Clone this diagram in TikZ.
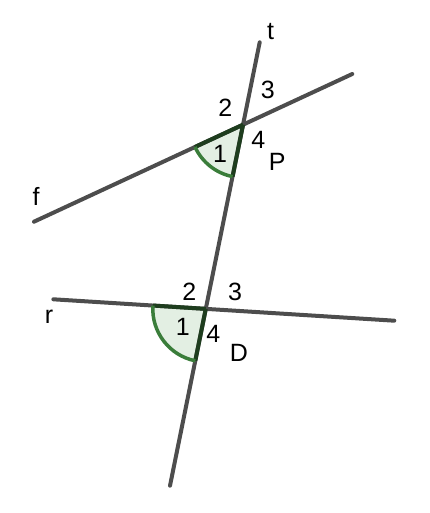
\documentclass[tikz,border=0pt]{standalone}
\usepackage{fontspec}
\setmainfont{Liberation Sans}
\usepackage{tikz}
\definecolor{linegray}{HTML}{4D4D4D}
\definecolor{arcgreen}{HTML}{3A7D3A}
\definecolor{sidegreen}{HTML}{1E3D1E}
\definecolor{sectorfill}{HTML}{E3EFE3}
\tikzstyle{gline} = [draw=linegray, line width=4pt, line cap=round]
\tikzstyle{sector} = [fill=sectorfill]
\tikzstyle{anglearc} = [draw=arcgreen, line width=3.5pt]
\tikzstyle{anglesides} = [draw=sidegreen, line width=4pt]
\tikzstyle{lbl} = [inner sep=0pt, font=\fontsize{25}{30}\selectfont]

\begin{document}
\begin{tikzpicture}[x=1pt, y=1pt]
                \useasboundingbox (0,0) rectangle (430,513);
                % end points of t, f and r
                \coordinate (tTop) at (259.7,470.7);
                \coordinate (tBot) at (170,27.3);
                \coordinate (fL) at (34,291.3);
                \coordinate (fR) at (352.3,439);
                \coordinate (rL) at (53.3,213.7);
                \coordinate (rR) at (394.3,192.3);
                \coordinate (P) at (intersection of tTop--tBot and fL--fR);
                \coordinate (D) at (intersection of tTop--tBot and rL--rR);
                % angles 1
                \fill[sector] (P) -- ++(204.9:53) arc[start angle=204.9, end angle=258.6, radius=53] -- cycle;
                \fill[sector] (D) -- ++(176.4:53) arc[start angle=176.4, end angle=258.6, radius=53] -- cycle;
                \draw[gline] (tTop) -- (tBot);
                \draw[gline] (fL) -- (fR);
                \draw[gline] (rL) -- (rR);
                \draw[anglesides] (P) -- ++(204.9:53) (P) -- ++(258.6:53);
                \draw[anglesides] (D) -- ++(176.4:53) (D) -- ++(258.6:53);
                \draw[anglearc] (P) ++(204.9:53) arc[start angle=204.9, end angle=258.6, radius=53];
                \draw[anglearc] (D) ++(176.4:53) arc[start angle=176.4, end angle=258.6, radius=53];
                % labels
                \node[lbl] (lt) at (270.7,481) {t};
                \node[lbl] (lf) at (36,316.3) {f};
                \node[lbl] (lr) at (49,196.3) {r};
                \node[lbl] (lP) at (277.3,350.7) {P};
                \node[lbl] (lD) at (239,159.7) {D};
                \node[lbl] (p1) at (220,359) {1};
                \node[lbl] (p2) at (225.3,405) {2};
                \node[lbl] (p3) at (267.7,423) {3};
                \node[lbl] (p4) at (258.3,373) {4};
                \node[lbl] (d1) at (182.7,185.7) {1};
                \node[lbl] (d2) at (189.3,221.3) {2};
                \node[lbl] (d3) at (235,221.3) {3};
                \node[lbl] (d4) at (213.3,179) {4};
            \end{tikzpicture}
\end{document}
